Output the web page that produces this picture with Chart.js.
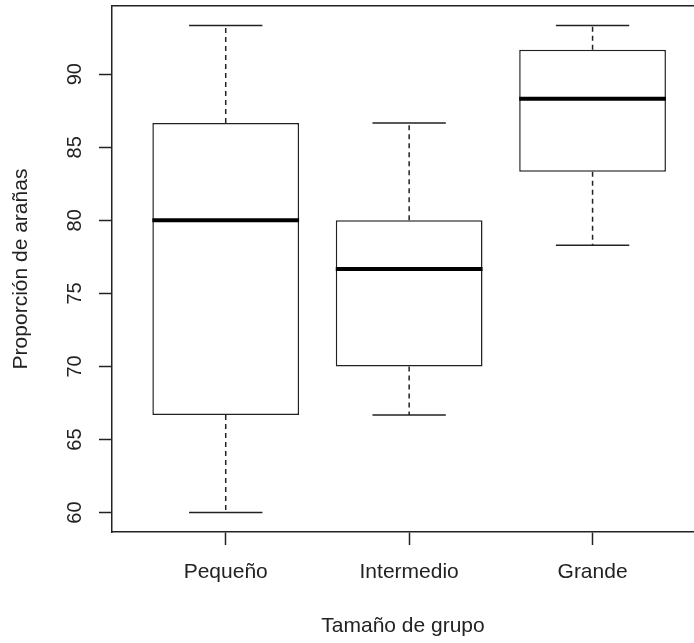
<!DOCTYPE html>
<html lang="es">
<head>
<meta charset="utf-8">
<title>Proporción de arañas por tamaño de grupo</title>
<script src="https://cdn.jsdelivr.net/npm/chart.js@4/dist/chart.umd.min.js"></script>
<style>
    html, body {
        margin: 0;
        padding: 0;
        background: #ffffff;
    }

    #wrap {
        width: 694px;
        height: 643px;
        position: relative;
    }
</style>
</head>
<body>
<div id="wrap">
    <canvas id="boxChart"></canvas>
</div>
<script>
"use strict";

// values
const categories = ["Pequeño", "Intermedio", "Grande"];

const minValues = [60, 66.67, 78.3];
const q1Values = [66.67, 70, 83.33];
const medianValues = [80, 76.67, 88.33];
const q3Values = [86.67, 80, 91.67];
const maxValues = [93.33, 86.67, 93.33];

const yTicks = [60, 65, 70, 75, 80, 85, 90];

const Y_MIN = 58.67;
const Y_MAX = 94.67;

const X_MIN = 0.38;
const X_MAX = 3.553;

const BOX_WIDTH = 0.8;
const CAP_WIDTH = 0.4;

const INK = "#222222";
const FONT_FAMILY = "'Liberation Sans', Arial, sans-serif";

const positions =
    categories.map(
        (name, index) => index + 1
    );

// horizontal segment per category, separated by gaps
function segments(values, halfWidth) {

    const points = [];

    positions.forEach((x, index) => {

        points.push({ x: x - halfWidth, y: values[index] });
        points.push({ x: x + halfWidth, y: values[index] });
        points.push({ x: x, y: null });
    });

    return points;
}

function whiskerPoints() {

    const points = [];

    positions.forEach((x, index) => {

        points.push({ x: x, y: q3Values[index] });
        points.push({ x: x, y: maxValues[index] });
        points.push({ x: x, y: null });

        points.push({ x: x, y: q1Values[index] });
        points.push({ x: x, y: minValues[index] });
        points.push({ x: x, y: null });
    });

    return points;
}

function noScalePadding(scale) {

    scale.paddingTop = 0;
    scale.paddingBottom = 0;
    scale.paddingLeft = 0;
    scale.paddingRight = 0;
}

const lineDefaults = {
    type: "line",
    pointRadius: 0,
    pointHoverRadius: 0,
    spanGaps: false,
    fill: false,
    tension: 0
};

new Chart(
    document.getElementById("boxChart"),
    {
        type: "bar",

        data: {
            datasets: [
                {
                    ...lineDefaults,
                    label: "Mediana",
                    data: segments(medianValues, BOX_WIDTH / 2),
                    borderColor: "#000000",
                    borderWidth: 4,
                    order: 0
                },
                {
                    ...lineDefaults,
                    label: "Extremos",
                    data: segments(minValues, CAP_WIDTH / 2)
                        .concat(segments(maxValues, CAP_WIDTH / 2)),
                    borderColor: INK,
                    borderWidth: 1.5,
                    order: 1
                },
                {
                    ...lineDefaults,
                    label: "Bigotes",
                    data: whiskerPoints(),
                    borderColor: INK,
                    borderWidth: 1.5,
                    borderDash: [5, 4],
                    order: 2
                },
                {
                    type: "bar",
                    label: "Caja",
                    data: positions.map((x, index) => ({
                        x: x,
                        y: [q1Values[index], q3Values[index]]
                    })),
                    backgroundColor: "#ffffff",
                    borderColor: INK,
                    borderWidth: 1.5,
                    borderSkipped: false,
                    barPercentage: BOX_WIDTH,
                    categoryPercentage: 1,
                    order: 3
                }
            ]
        },

        options: {
            responsive: true,
            maintainAspectRatio: false,
            animation: false,
            events: [],

            layout: {
                padding: { top: 6, right: 0, bottom: 0, left: 0 }
            },

            plugins: {
                legend: { display: false },
                tooltip: { enabled: false },
                title: { display: false }
            },

            scales: {
                x: {
                    type: "linear",
                    position: "bottom",
                    min: X_MIN,
                    max: X_MAX,
                    offset: false,
                    afterBuildTicks(scale) {
                        scale.ticks = positions.map(v => ({ value: v }));
                    },
                    afterFit(scale) {
                        scale.height = 111;
                        noScalePadding(scale);
                    },
                    ticks: {
                        color: INK,
                        padding: 15,
                        maxRotation: 0,
                        minRotation: 0,
                        autoSkip: false,
                        font: { family: FONT_FAMILY, size: 21 },
                        callback: value => categories[Math.round(value) - 1]
                    },
                    grid: {
                        display: true,
                        offset: false,
                        drawOnChartArea: false,
                        drawTicks: true,
                        tickLength: 13,
                        color: INK,
                        tickWidth: 1.5
                    },
                    border: {
                        display: true,
                        color: INK,
                        width: 1.5
                    },
                    title: {
                        display: true,
                        text: "Tamaño de grupo",
                        color: INK,
                        padding: { top: 0, bottom: 4 },
                        font: { family: FONT_FAMILY, size: 21 }
                    }
                },

                xTop: {
                    type: "linear",
                    position: "top",
                    min: X_MIN,
                    max: X_MAX,
                    afterFit(scale) {
                        scale.height = 0;
                        noScalePadding(scale);
                    },
                    ticks: { display: false },
                    grid: {
                        display: true,
                        offset: false,
                        drawOnChartArea: false,
                        drawTicks: false
                    },
                    border: {
                        display: true,
                        color: INK,
                        width: 1.5
                    }
                },

                y: {
                    type: "linear",
                    position: "left",
                    min: Y_MIN,
                    max: Y_MAX,
                    afterBuildTicks(scale) {
                        scale.ticks = yTicks.map(v => ({ value: v }));
                    },
                    afterFit(scale) {
                        scale.width = 112;
                        noScalePadding(scale);
                    },
                    ticks: {
                        color: INK,
                        padding: 12,
                        minRotation: 90,
                        maxRotation: 90,
                        crossAlign: "center",
                        autoSkip: false,
                        font: { family: FONT_FAMILY, size: 20 },
                        callback: value => String(value)
                    },
                    grid: {
                        display: true,
                        drawOnChartArea: false,
                        drawTicks: true,
                        tickLength: 13,
                        color: INK,
                        tickWidth: 1.5
                    },
                    border: {
                        display: true,
                        color: INK,
                        width: 1.5
                    },
                    title: {
                        display: true,
                        text: "Proporción de arañas",
                        color: INK,
                        padding: { top: 9, bottom: 0 },
                        font: { family: FONT_FAMILY, size: 21 }
                    }
                }
            }
        }
    }
);
</script>
</body>
</html>
